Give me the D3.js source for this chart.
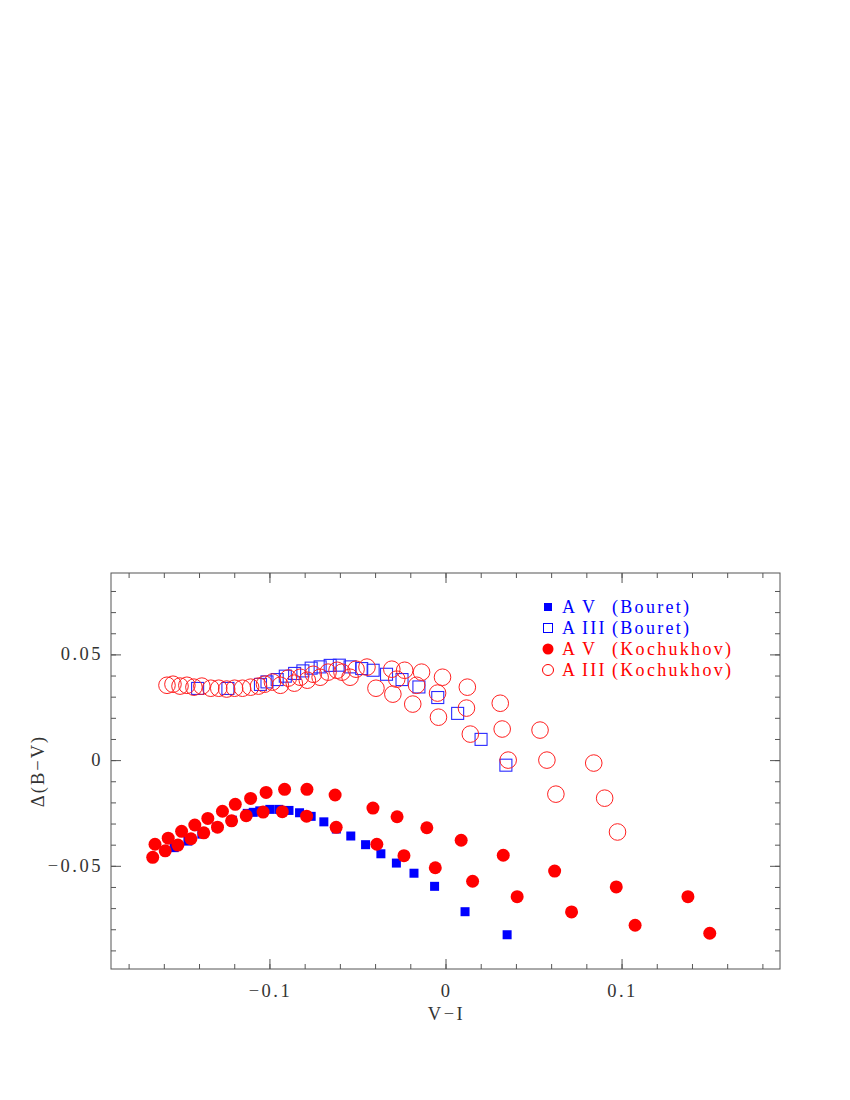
<!DOCTYPE html>
<html>
<head>
<meta charset="utf-8">
<script src="https://cdn.jsdelivr.net/npm/d3@7"></script>
<style>
  body { margin: 0; background: #fff; }
  svg text { font-family: "Liberation Serif", "DejaVu Serif", serif; }
</style>
</head>
<body>
<div id="chart"></div>
<script>
// data: [V-I, Delta(B-V)]
const aVBouret = [
  [-0.1541, -0.0414], [-0.1463, -0.0383], [-0.1384, -0.0350], [-0.1299, -0.0317],
  [-0.1211, -0.0284], [-0.1126, -0.0252], [-0.1092, -0.0247], [-0.1055, -0.0240],
  [-0.0998, -0.0233], [-0.0947, -0.0233], [-0.0889, -0.0238], [-0.0829, -0.0249],
  [-0.0763, -0.0266], [-0.0691, -0.0292], [-0.0620, -0.0326], [-0.0538, -0.0359],
  [-0.0454, -0.0400], [-0.0367, -0.0443], [-0.0279, -0.0487], [-0.0179, -0.0535],
  [-0.0062, -0.0597], [0.0111, -0.0717], [0.0350, -0.0826]
];

const aIIIBouret = [
  [-0.1408, 0.0339], [-0.1236, 0.0339], [-0.1051, 0.0358], [-0.1014, 0.0370],
  [-0.0956, 0.0381], [-0.0910, 0.0397], [-0.0857, 0.0410], [-0.0810, 0.0422],
  [-0.0763, 0.0435], [-0.0712, 0.0441], [-0.0655, 0.0448], [-0.0603, 0.0449],
  [-0.0542, 0.0441], [-0.0476, 0.0433], [-0.0411, 0.0425], [-0.0335, 0.0406],
  [-0.0247, 0.0381], [-0.0151, 0.0346], [-0.0044, 0.0296], [0.0069, 0.0221],
  [0.0202, 0.0098], [0.0343, -0.0024]
];

const aVKochukhov = [
  // upper run
  [-0.1650, -0.0398], [-0.1575, -0.0369], [-0.1499, -0.0337], [-0.1424, -0.0307],
  [-0.1350, -0.0276], [-0.1267, -0.0242], [-0.1194, -0.0209], [-0.1107, -0.0181],
  [-0.1019, -0.0153], [-0.0914, -0.0138], [-0.0787, -0.0138], [-0.0627, -0.0165],
  [-0.0412, -0.0227], [-0.0275, -0.0268], [-0.0106, -0.0320], [0.0089, -0.0379],
  [0.0328, -0.0450], [0.0620, -0.0525], [0.0970, -0.0600], [0.1377, -0.0646],
  // lower run
  [-0.1663, -0.0460], [-0.1592, -0.0429], [-0.1520, -0.0402], [-0.1446, -0.0372],
  [-0.1373, -0.0344], [-0.1295, -0.0317], [-0.1215, -0.0287], [-0.1132, -0.0263],
  [-0.1036, -0.0246], [-0.0927, -0.0244], [-0.0789, -0.0265], [-0.0621, -0.0318],
  [-0.0390, -0.0398], [-0.0236, -0.0452], [-0.0058, -0.0509], [0.0154, -0.0573],
  [0.0407, -0.0646], [0.0716, -0.0718], [0.1077, -0.0781], [0.1501, -0.0819]
];

const aIIIKochukhov = [
  [-0.1582, 0.0354], [-0.1548, 0.0359], [-0.1508, 0.0350], [-0.1469, 0.0354],
  [-0.1429, 0.0345], [-0.1384, 0.0350], [-0.1333, 0.0340], [-0.1288, 0.0340],
  [-0.1243, 0.0336], [-0.1198, 0.0340], [-0.1153, 0.0340], [-0.1107, 0.0345],
  [-0.1062, 0.0350], [-0.1028, 0.0359], [-0.0983, 0.0369], [-0.0938, 0.0354],
  [-0.0893, 0.0388], [-0.0859, 0.0364], [-0.0825, 0.0392], [-0.0785, 0.0378],
  [-0.0751, 0.0406], [-0.0712, 0.0392], [-0.0667, 0.0416], [-0.0616, 0.0425],
  [-0.0588, 0.0416], [-0.0542, 0.0392], [-0.0508, 0.0430], [-0.0446, 0.0440],
  [-0.0395, 0.0340], [-0.0305, 0.0430], [-0.0299, 0.0312], [-0.0277, 0.0383],
  [-0.0232, 0.0425], [-0.0186, 0.0265], [-0.0164, 0.0354], [-0.0136, 0.0416],
  [-0.0045, 0.0317], [-0.0040, 0.0203], [-0.0017, 0.0392], [0.0119, 0.0246],
  [0.0124, 0.0345], [0.0141, 0.0123], [0.0311, 0.0269], [0.0322, 0.0147],
  [0.0356, 0.0000], [0.0537, 0.0142], [0.0576, 0.0000], [0.0627, -0.0161],
  [0.0842, -0.0014], [0.0904, -0.0180], [0.0977, -0.0340]
];

const xTicks = [-0.1, 0, 0.1];
const xTickLabels = ["\u22120.1", "0", "0.1"];
const yTicks = [-0.05, 0, 0.05];
const yTickLabels = ["\u22120.05", "0", "0.05"];
const xMinorTicks = d3.range(-9, 10).map(i => i * 0.02);
const yMinorTicks = d3.range(-9, 9).map(i => i * 0.01);

const legendRows = [
  { a: "A", cls: "V", src: "(Bouret)", color: "#0000ff", shape: "fsquare" },
  { a: "A", cls: "III", src: "(Bouret)", color: "#0000ff", shape: "osquare" },
  { a: "A", cls: "V", src: "(Kochukhov)", color: "#ff0000", shape: "fcircle" },
  { a: "A", cls: "III", src: "(Kochukhov)", color: "#ff0000", shape: "ocircle" }
];

const margin = { top: 573, right: 70, bottom: 131, left: 111 };
const width = 850 - margin.left - margin.right;
const height = 1100 - margin.top - margin.bottom;

const svg = d3.select("#chart")
  .append("svg")
  .attr("width", 850)
  .attr("height", 1100)
  .append("g")
  .attr("transform", `translate(${margin.left}, ${margin.top})`);

const x = d3.scaleLinear().domain([-0.19, 0.19]).range([0, width]);
const y = d3.scaleLinear().domain([-0.0988, 0.0885]).range([height, 0]);

const frameColor = "#555";

// ticks on all four sides, pointing inward
function tickAxis(axis, values, size, transform) {
  const g = svg.append("g")
    .attr("transform", transform)
    .call(axis.tickValues(values).tickSize(-size).tickSizeOuter(0).tickFormat(""));
  g.select(".domain").remove();
  g.selectAll("line").attr("stroke", frameColor);
}

tickAxis(d3.axisBottom(x), xMinorTicks, 5, `translate(0, ${height})`);
tickAxis(d3.axisBottom(x), xTicks, 10, `translate(0, ${height})`);
tickAxis(d3.axisTop(x), xMinorTicks, 5, "translate(0, 0)");
tickAxis(d3.axisTop(x), xTicks, 10, "translate(0, 0)");
tickAxis(d3.axisLeft(y), yMinorTicks, 5, "translate(0, 0)");
tickAxis(d3.axisLeft(y), yTicks, 10, "translate(0, 0)");
tickAxis(d3.axisRight(y), yMinorTicks, 5, `translate(${width}, 0)`);
tickAxis(d3.axisRight(y), yTicks, 10, `translate(${width}, 0)`);

// frame
svg.append("rect")
  .attr("x", 0)
  .attr("y", 0)
  .attr("width", width)
  .attr("height", height)
  .attr("fill", "none")
  .attr("stroke", frameColor);

// tick labels
svg.selectAll(".xlab")
  .data(xTicks)
  .enter()
  .append("text")
  .attr("x", d => x(d) + 1)
  .attr("y", height + 28)
  .attr("text-anchor", "middle")
  .attr("font-size", 18.5)
  .attr("letter-spacing", 2.5)
  .attr("fill", "#333")
  .text((d, i) => xTickLabels[i]);

svg.selectAll(".ylab")
  .data(yTicks)
  .enter()
  .append("text")
  .attr("x", -8)
  .attr("y", d => y(d) + 6)
  .attr("text-anchor", "end")
  .attr("font-size", 18.5)
  .attr("letter-spacing", 2.5)
  .attr("fill", "#333")
  .text((d, i) => yTickLabels[i]);

// axis titles
svg.append("text")
  .attr("x", width / 2 + 1)
  .attr("y", height + 51)
  .attr("text-anchor", "middle")
  .attr("font-size", 18.5)
  .attr("letter-spacing", 2.5)
  .attr("fill", "#333")
  .text("V\u2212I");

svg.append("text")
  .attr("transform", "rotate(-90)")
  .attr("x", -height / 2)
  .attr("y", -67)
  .attr("text-anchor", "middle")
  .attr("font-size", 18.5)
  .attr("letter-spacing", 2)
  .attr("fill", "#333")
  .text("\u0394(B\u2212V)");

// markers
const sq = 9, osq = 12;

svg.selectAll(".aVB")
  .data(aVBouret)
  .enter()
  .append("rect")
  .attr("x", d => x(d[0]) - sq / 2)
  .attr("y", d => y(d[1]) - sq / 2)
  .attr("width", sq)
  .attr("height", sq)
  .attr("fill", "#0000ff");

svg.selectAll(".aIIIB")
  .data(aIIIBouret)
  .enter()
  .append("rect")
  .attr("x", d => x(d[0]) - osq / 2)
  .attr("y", d => y(d[1]) - osq / 2)
  .attr("width", osq)
  .attr("height", osq)
  .attr("fill", "none")
  .attr("stroke", "#2a2aff")
  .attr("stroke-width", 1.1);

svg.selectAll(".aVK")
  .data(aVKochukhov)
  .enter()
  .append("circle")
  .attr("cx", d => x(d[0]))
  .attr("cy", d => y(d[1]))
  .attr("r", 6.5)
  .attr("fill", "#ff0000");

svg.selectAll(".aIIIK")
  .data(aIIIKochukhov)
  .enter()
  .append("circle")
  .attr("cx", d => x(d[0]))
  .attr("cy", d => y(d[1]))
  .attr("r", 8.3)
  .attr("fill", "none")
  .attr("stroke", "#ff2020")
  .attr("stroke-width", 1);

// legend
const legend = svg.append("g").attr("transform", "translate(437, 34)");

legendRows.forEach((row, i) => {
  const ly = i * 21;
  if (row.shape === "fsquare") {
    legend.append("rect").attr("x", -4).attr("y", ly - 4).attr("width", 8).attr("height", 8)
      .attr("fill", row.color);
  } else if (row.shape === "osquare") {
    legend.append("rect").attr("x", -4.5).attr("y", ly - 4.5).attr("width", 9).attr("height", 9)
      .attr("fill", "none").attr("stroke", row.color);
  } else if (row.shape === "fcircle") {
    legend.append("circle").attr("cx", 0).attr("cy", ly).attr("r", 5.5).attr("fill", row.color);
  } else {
    legend.append("circle").attr("cx", 0).attr("cy", ly).attr("r", 5.5)
      .attr("fill", "none").attr("stroke", row.color);
  }

  const t = legend.append("text")
    .attr("y", ly + 6)
    .attr("font-size", 18)
    .attr("letter-spacing", 2.3)
    .attr("fill", row.color);
  t.append("tspan").attr("x", 14).text(row.a);
  t.append("tspan").attr("x", 34).text(row.cls);
  t.append("tspan").attr("x", 64).text(row.src);
});
</script>
</body>
</html>
